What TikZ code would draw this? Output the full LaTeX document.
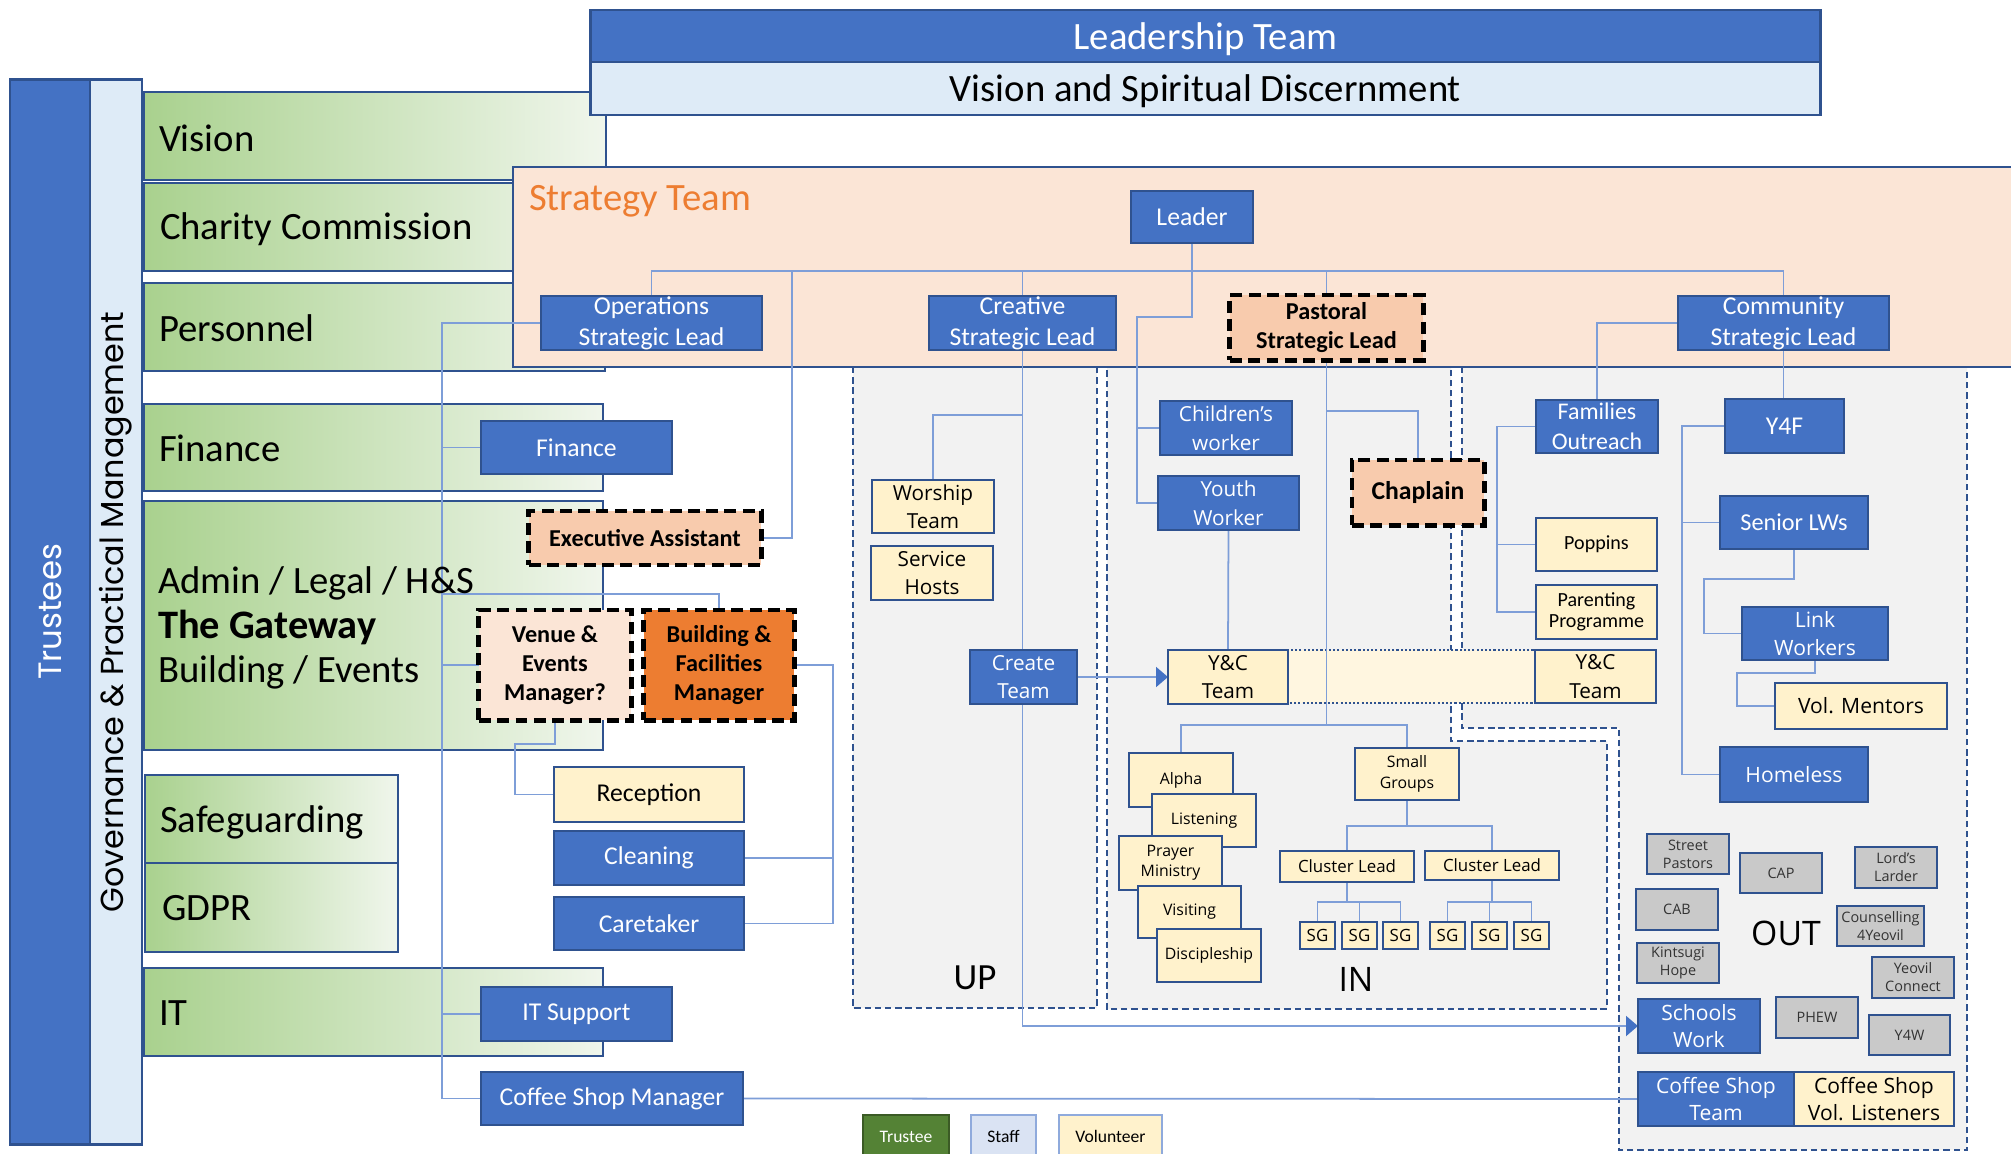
\documentclass[tikz,border=0pt]{standalone}
\usepackage{fontspec}
\setmainfont{Carlito}
\newfontfamily\segoe{Open Sans}
\newfontfamily\gothic{Poppins}
\usetikzlibrary{arrows.meta}

\definecolor{staffblue}{HTML}{4472C4}
\definecolor{edgeblue}{HTML}{2F528F}
\definecolor{paleblue}{HTML}{DEEBF7}
\definecolor{wireblue}{HTML}{7E9ED8}
\definecolor{volyellow}{HTML}{FFF2CC}
\definecolor{peach}{HTML}{FBE5D6}
\definecolor{peachdark}{HTML}{F8CBAD}
\definecolor{orangeft}{HTML}{ED7D31}
\definecolor{greenleft}{HTML}{A9D18E}
\definecolor{greenright}{HTML}{F0F6EC}
\definecolor{regiongrey}{HTML}{F2F2F2}
\definecolor{boxgrey}{HTML}{C9C9C9}
\definecolor{trusteegreen}{HTML}{548235}
\definecolor{legendstaff}{HTML}{DAE3F3}
\definecolor{bandyellow}{HTML}{FFF6E0}

\pgfdeclarelayer{back}
\pgfdeclarelayer{wires}
\pgfsetlayers{back,wires,main}

\newcommand{\fsz}[2]{\fontsize{#1}{#2}\selectfont}
% box from its corners: style, name, x1, y1, x2, y2, text
\newcommand{\orgbox}[7]{%
  \pgfmathsetmacro{\obw}{(#5-#3)/100}%
  \pgfmathsetmacro{\obh}{(#6-#4)/100}%
  \node[#1, minimum width=\obw cm, minimum height=\obh cm] (#2) at ({(#3+#5)/2},{(#4+#6)/2}) {#7};%
}

\tikzset{
  every node/.style={inner sep=0pt, outer sep=0pt, align=center},
  staffbox/.style={draw=edgeblue, fill=staffblue, text=white, line width=0.8pt},
  palebox/.style={draw=edgeblue, fill=paleblue, line width=0.8pt},
  volbox/.style={draw=edgeblue, fill=volyellow, line width=0.8pt},
  greybox/.style={draw=edgeblue, fill=boxgrey, text=black!80, line width=0.8pt, font={\segoe\fsz{4.1}{5.1}}},
  keybox/.style={draw=black, line width=1.4pt, dash pattern=on 3.4pt off 1.8pt, font={\bfseries\fsz{6.9}{8.3}}},
  legendbox/.style={draw=staffblue!60, line width=0.7pt, font={\fsz{5}{6}}},
  rolefont/.style={font={\fsz{7.3}{8.8}}},
  segfont/.style={font={\segoe\fsz{5.9}{8.1}}},
  medfont/.style={font={\segoe\fsz{6}{7.9}}},
  tinyfont/.style={font={\segoe\fsz{4.5}{5.8}}},
  clfont/.style={font={\segoe\fsz{4.8}{6}}},
  titlefont/.style={font={\fsz{11}{13}}, text depth=0pt},
  barlabel/.style={anchor=west, font={\fsz{11}{13}}},
  greenbar/.style={draw=edgeblue, line width=0.8pt, left color=greenleft, right color=greenright},
  region/.style={draw=edgeblue, fill=regiongrey, line width=0.6pt, dash pattern=on 1.8pt off 1.1pt},
  wire/.style={draw=wireblue, line width=0.5pt},
  endtip/.style={-{Triangle[width=5.7pt,length=3.4pt,color=staffblue]}}
}

\begin{document}
\begin{tikzpicture}[x=0.01cm,y=-0.01cm]
\useasboundingbox (0,0) rectangle (2011,1153);

\begin{pgfonlayer}{back}
  \fill[white] (0,0) rectangle (2011,1153);
  % areas of responsibility
  \shadedraw[greenbar] (144,92) rectangle (606,180);
  \shadedraw[greenbar] (144,183) rectangle (606,271);
  \shadedraw[greenbar] (144,283) rectangle (605,371);
  \shadedraw[greenbar] (144,404) rectangle (603,491);
  \shadedraw[greenbar] (144,501) rectangle (603,750);
  \shadedraw[greenbar] (145,775) rectangle (398,863);
  \shadedraw[greenbar] (145,863) rectangle (398,952);
  \shadedraw[greenbar] (144,968) rectangle (603,1056);
  % UP / IN / OUT
  \draw[region] (853,367) rectangle (1097,1008);
  \draw[region] (1107,367) -- (1451,367) -- (1451,741) -- (1607,741) -- (1607,1009) -- (1107,1009) -- cycle;
  \draw[region] (1462,367) -- (1967,367) -- (1967,1150) -- (1619,1150) -- (1619,728) -- (1462,728) -- cycle;
  \draw[draw=edgeblue, fill=bandyellow, line width=0.6pt, dash pattern=on 0.6pt off 0.6pt] (1288,650) rectangle (1535,703);
  % strategy team
  \filldraw[fill=peach, draw=edgeblue, line width=0.8pt] (2011,167) -- (513,167) -- (513,367) -- (2011,367);
\end{pgfonlayer}

% leadership
\orgbox{staffbox,titlefont}{leadteam}{591}{10}{1820}{62}{Leadership Team}
\orgbox{palebox,titlefont}{discern}{591}{62}{1820}{115}{Vision and Spiritual Discernment}

% governance column
\orgbox{staffbox}{trustbar}{10}{80}{90}{1144}{}
\orgbox{palebox}{govbar}{90}{80}{142}{1144}{}
\node[rotate=90, text=white, font={\gothic\fsz{9.2}{11}}] (trustlbl) at (trustbar.center) {Trustees};
\node[rotate=90, font={\gothic\fsz{9.05}{11}}] (govlbl) at (govbar.center) {Governance \& Practical Management};

\node[barlabel] (visionlbl) at (159,138) {Vision};
\node[barlabel] (charitylbl) at (160,229) {Charity Commission};
\node[barlabel] (personnellbl) at (159,328) {Personnel};
\node[barlabel] (financelbl) at (159,448) {Finance};
\node[barlabel] (adminlbl) at (158,583) {Admin / Legal / H\&S};
\node[barlabel, font={\bfseries\fsz{11.5}{13}}] (gatewaylbl) at (158,627) {The Gateway};
\node[barlabel] (buildinglbl) at (158,672) {Building / Events};
\node[barlabel] (safelbl) at (160,822) {Safeguarding};
\node[barlabel] (gdprlbl) at (162,908) {GDPR};
\node[barlabel] (itlbl) at (159,1013) {IT};

% strategy team
\node[anchor=west, text=orangeft, font={\fsz{11}{13}}] (stratlbl) at (529,201) {Strategy Team};
\orgbox{staffbox,rolefont}{leader}{1131}{191}{1253}{243}{Leader}
\orgbox{staffbox,rolefont}{ops}{541}{296}{762}{350}{Operations\\Strategic Lead}
\orgbox{staffbox,rolefont}{creative}{929}{296}{1116}{350}{Creative\\Strategic Lead}
\orgbox{keybox,fill=peachdark}{pastoral}{1230}{295}{1423}{360}{Pastoral\\Strategic Lead}
\orgbox{staffbox,rolefont}{community}{1678}{296}{1889}{350}{Community\\Strategic Lead}

% operations
\orgbox{staffbox,rolefont}{finrole}{481}{421}{672}{474}{Finance}
\orgbox{keybox,fill=peachdark}{execasst}{529}{511}{761}{565}{Executive Assistant}
\orgbox{keybox,fill=peach}{venue}{479}{610}{631}{720}{Venue \&\\Events\\Manager?}
\orgbox{keybox,fill=orangeft}{facilities}{644}{610}{794}{720}{Building \&\\Facilities\\Manager}
\orgbox{volbox,rolefont}{reception}{554}{767}{744}{822}{Reception}
\orgbox{staffbox,rolefont}{cleaning}{554}{831}{744}{885}{Cleaning}
\orgbox{staffbox,rolefont}{caretaker}{554}{897}{744}{950}{Caretaker}
\orgbox{staffbox,rolefont}{itsupport}{481}{987}{672}{1041}{IT Support}
\orgbox{staffbox,rolefont}{cafemgr}{481}{1072}{743}{1125}{Coffee Shop Manager}

% UP
\orgbox{volbox,segfont}{worship}{872}{480}{994}{533}{Worship\\Team}
\orgbox{volbox,segfont}{hosts}{871}{546}{993}{600}{Service\\Hosts}
\orgbox{staffbox,segfont}{createteam}{970}{650}{1077}{704}{Create\\Team}
\node[font={\fsz{10.5}{12}}] (uplbl) at (975,978) {UP};

% IN
\orgbox{staffbox,segfont}{childw}{1160}{401}{1292}{455}{Children’s\\worker}
\orgbox{staffbox,segfont}{youthw}{1158}{476}{1299}{530}{Youth\\Worker}
\orgbox{keybox,fill=peachdark,font={\bfseries\fsz{7.3}{8.4}}}{chaplain}{1352}{460}{1484}{525}{Chaplain}
\orgbox{volbox,segfont}{ycleft}{1168}{650}{1288}{704}{Y\&C\\Team}
\orgbox{volbox,segfont}{ycright}{1535}{650}{1656}{703}{Y\&C\\Team}
\orgbox{volbox,tinyfont}{alpha}{1129}{753}{1233}{807}{Alpha}
\orgbox{volbox,tinyfont}{listening}{1152}{794}{1256}{847}{Listening}
\orgbox{volbox,tinyfont}{prayer}{1119}{836}{1222}{890}{Prayer\\Ministry}
\orgbox{volbox,tinyfont}{visiting}{1138}{886}{1241}{938}{Visiting}
\orgbox{volbox,tinyfont}{discip}{1157}{929}{1261}{982}{Discipleship}
\orgbox{volbox,tinyfont}{sgroups}{1355}{748}{1459}{800}{Small\\Groups}
\orgbox{volbox,clfont}{clusterA}{1280}{851}{1414}{882}{Cluster Lead}
\orgbox{volbox,clfont}{clusterB}{1425}{851}{1559}{880}{Cluster Lead}
\foreach \sgname/\sgx in {sga/1300,sgb/1342,sgc/1383,sgd/1430,sge/1472,sgf/1514}{
  \orgbox{volbox,clfont}{\sgname}{\sgx}{922}{\sgx+35}{949}{SG}
}
\node[font={\segoe\fsz{9.6}{11}}] (inlbl) at (1356,979) {IN};

% OUT
\orgbox{staffbox,font={\fsz{6.8}{8.4}}}{families}{1536}{400}{1658}{453}{Families\\Outreach}
\orgbox{volbox,font={\fsz{5.7}{6}}}{poppins}{1536}{518}{1657}{571}{Poppins}
\orgbox{volbox,font={\fsz{5.7}{6}}}{parenting}{1536}{585}{1657}{639}{Parenting\\Programme}
\orgbox{staffbox,rolefont}{yff}{1725}{399}{1844}{453}{Y4F}
\orgbox{staffbox,font={\fsz{6.9}{8}}}{seniorlw}{1720}{496}{1868}{549}{Senior LWs}
\orgbox{staffbox,medfont}{linkw}{1742}{607}{1888}{660}{Link\\Workers}
\orgbox{volbox,medfont}{mentors}{1775}{683}{1947}{729}{Vol. Mentors}
\orgbox{staffbox,medfont}{homeless}{1720}{747}{1868}{802}{Homeless}
\orgbox{greybox}{pastors}{1647}{834}{1729}{874}{Street\\Pastors}
\orgbox{greybox}{capbox}{1740}{853}{1822}{893}{CAP}
\orgbox{greybox}{larder}{1855}{847}{1937}{888}{Lord’s\\Larder}
\orgbox{greybox}{cabbox}{1636}{889}{1718}{930}{CAB}
\orgbox{greybox}{counsel}{1837}{906}{1924}{946}{Counselling\\4Yeovil}
\orgbox{greybox}{kintsugi}{1637}{943}{1719}{983}{Kintsugi\\Hope}
\orgbox{greybox}{yconnect}{1872}{957}{1954}{998}{Yeovil\\Connect}
\orgbox{greybox}{phew}{1776}{997}{1858}{1038}{PHEW}
\orgbox{greybox}{yfw}{1869}{1015}{1950}{1055}{Y4W}
\node[font={\segoe\fsz{9.6}{11}}] (outlbl) at (1786,933) {OUT};
\orgbox{staffbox,medfont}{schools}{1638}{999}{1760}{1053}{Schools\\Work}
\orgbox{staffbox,medfont}{cafeteam}{1638}{1072}{1794}{1126}{Coffee Shop\\Team}
\orgbox{volbox,medfont}{listeners}{1794}{1072}{1954}{1126}{Coffee Shop\\Vol. Listeners}

% key
\orgbox{legendbox,draw=trusteegreen!70!black,fill=trusteegreen,text=white}{keytrustee}{863}{1115}{949}{1158}{Trustee}
\orgbox{legendbox,fill=legendstaff}{keystaff}{971}{1115}{1036}{1158}{Staff}
\orgbox{legendbox,fill=volyellow}{keyvol}{1059}{1115}{1162}{1158}{Volunteer}

% connectors
\begin{pgfonlayer}{wires}
  \coordinate (ldrknee) at (1137,317);
  \coordinate (eatap) at (792,271);
  \coordinate (opsspine) at (442,323);
  \coordinate (gatewaytap) at (442,594);
  \coordinate (rcpknee) at (515,744);
  \coordinate (bfmknee) at (833,665);
  \coordinate (worshiptap) at (1022.5,415);
  \coordinate (inbus) at (1326.5,725);
  \coordinate (chaptap) at (1326.5,411);

  \draw[wire] (ops.north) -- ++(0,-25) -| (community.north);
  \draw[wire] (creative.north) -- ++(0,-25);
  \draw[wire] (pastoral.north) -- ++(0,-24);
  \draw[wire] (leader.south) |- (ldrknee) |- (youthw.west);
  \draw[wire] (ldrknee) |- (childw.west);
  \draw[wire] (execasst.east) -| (eatap);

  \draw[wire] (ops.west) -- (opsspine) |- (cafemgr.west);
  \draw[wire] (opsspine) |- (finrole.west);
  \draw[wire] (opsspine) |- (venue.west);
  \draw[wire] (opsspine) |- (itsupport.west);
  \draw[wire] (gatewaytap) -| (facilities.north);
  \draw[wire] (venue.south) |- (rcpknee) |- (reception.west);
  \draw[wire] (facilities.east) -- (bfmknee) |- (caretaker.east);
  \draw[wire] (bfmknee) |- (cleaning.east);
  \draw[wire] (cafemgr.east) -- (cafeteam.west);

  \draw[wire,endtip] (creative.south) |- (schools.west);
  \draw[wire] (worshiptap) -| (worship.north);
  \draw[wire,endtip] (createteam.east) -- (ycleft.west);

  \draw[wire] (youthw.south) -- (ycleft.north);
  \draw[wire] (pastoral.south) -- (inbus) -| (alpha.north);
  \draw[wire] (inbus) -| (sgroups.north);
  \draw[wire] (chaptap) -| (chaplain.north);
  \draw[wire] (sgroups.south) -- ++(0,26) -| (clusterA.north);
  \draw[wire] (sgroups.south) -- ++(0,26) -| (clusterB.north);
  \foreach \sgname in {sga,sgb,sgc}
    \draw[wire] (clusterA.south) -- ++(0,20) -| (\sgname.north);
  \foreach \sgname in {sgd,sge,sgf}
    \draw[wire] (clusterB.south) -- ++(0,22) -| (\sgname.north);

  \draw[wire] (community.west) -| (families.north);
  \draw[wire] (community.south) -- (community.south |- yff.north);
  \draw[wire] (families.west) -- ++(-39,0) |- (poppins.west);
  \draw[wire] (families.west) -- ++(-39,0) |- (parenting.west);
  \draw[wire] (yff.west) -- ++(-43,0) |- (seniorlw.west);
  \draw[wire] (yff.west) -- ++(-43,0) |- (homeless.west);
  \draw[wire] (seniorlw.south) -- ++(0,30) -- ++(-90,0) |- (linkw.west);
  \draw[wire] (linkw.south) -- ++(0,13) -- ++(-78,0) |- (mentors.west);
\end{pgfonlayer}
\end{tikzpicture}
\end{document}
